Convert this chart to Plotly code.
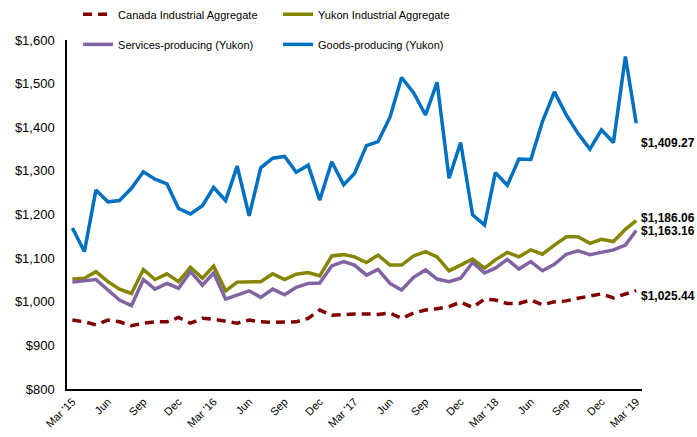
import plotly.graph_objects as go
import pandas as pd

months = pd.date_range("2015-03-01", periods=49, freq="MS").strftime("%Y-%m-%d").tolist()

canada = [958, 954, 947, 958, 954, 945, 951, 954, 954, 964, 951, 962, 960, 956, 951, 958, 954, 953, 953, 954,
          962, 981, 969, 971, 972, 972, 971, 974, 962, 974, 981, 984, 989, 999, 987, 1006, 1004, 996, 996, 1004,
          993, 1000, 1002, 1008, 1013, 1018, 1009, 1018, 1025.44]
yukon = [1052, 1054, 1069, 1046, 1029, 1019, 1074, 1051, 1064, 1046, 1079, 1054, 1082, 1025, 1045, 1045, 1046, 1064, 1051, 1063,
         1067, 1059, 1105, 1108, 1103, 1090, 1107, 1084, 1084, 1105, 1115, 1103, 1071, 1084, 1098, 1077, 1096, 1113, 1103, 1119,
         1109, 1130, 1149, 1149, 1134, 1143, 1138, 1166, 1186.06]
services = [1045, 1048, 1051, 1027, 1004, 991, 1051, 1029, 1042, 1031, 1069, 1038, 1066, 1006, 1016, 1025, 1010, 1029, 1016, 1033,
            1042, 1043, 1082, 1092, 1084, 1061, 1074, 1042, 1027, 1056, 1073, 1052, 1046, 1054, 1090, 1066, 1077, 1097, 1075, 1092,
            1071, 1086, 1109, 1117, 1108, 1113, 1119, 1130, 1163.16]
goods = [1169, 1115, 1256, 1229, 1232, 1260, 1298, 1281, 1270, 1214, 1201, 1220, 1262, 1232, 1311, 1197, 1307, 1329, 1333, 1297,
         1313, 1233, 1321, 1268, 1294, 1358, 1367, 1423, 1514, 1479, 1428, 1503, 1283, 1365, 1199, 1176, 1296, 1267, 1327, 1326,
         1413, 1481, 1428, 1386, 1350, 1394, 1365, 1562, 1409.27]

tick_vals = months[::3]
tick_text = ["Mar '15", "Jun", "Sep", "Dec", "Mar '16", "Jun", "Sep", "Dec", "Mar '17", "Jun", "Sep", "Dec",
             "Mar '18", "Jun", "Sep", "Dec", "Mar '19"]

series_names = ["Canada Industrial Aggregate", "Yukon Industrial Aggregate",
                "Services-producing (Yukon)", "Goods-producing (Yukon)"]

fig = go.Figure()
fig.add_trace(go.Scatter(x=months, y=canada, mode="lines", name=series_names[0],
                         line=dict(color="#800000", width=3.5, dash="9px,6px"), legend="legend"))
fig.add_trace(go.Scatter(x=months, y=yukon, mode="lines", name=series_names[1],
                         line=dict(color="#858500", width=3.5), legend="legend"))
fig.add_trace(go.Scatter(x=months, y=services, mode="lines", name=series_names[2],
                         line=dict(color="#8064A2", width=3.5), legend="legend2"))
fig.add_trace(go.Scatter(x=months, y=goods, mode="lines", name=series_names[3],
                         line=dict(color="#0070C0", width=3.5), legend="legend2"))

# end-value labels
label_offsets = [-12, 5, -1, -45]
for vals, off in zip([canada, yukon, services, goods], label_offsets):
    fig.add_annotation(x=1.0, xref="paper", y=vals[-1] + off, yref="y",
                       text="<b>$" + f"{vals[-1]:,.2f}" + "</b>", showarrow=False,
                       xanchor="left", yanchor="middle", xshift=-3,
                       font=dict(family="Liberation Sans, Arial", size=12, color="black"))

legend_common = dict(orientation="h", xref="container", yref="paper",
                     xanchor="left", yanchor="top", entrywidth=155,
                     font=dict(family="Liberation Sans, Arial", size=11, color="black"),
                     bgcolor="rgba(0,0,0,0)", tracegroupgap=0, itemwidth=30)

fig.update_layout(
    width=697, height=437,
    margin=dict(l=67, r=55, t=40, b=48, autoexpand=False),
    paper_bgcolor="white", plot_bgcolor="white",
    font=dict(family="Liberation Sans, Arial", color="black"),
    showlegend=True,
    legend=dict(x=0.112, y=1.115, **legend_common),
    legend2=dict(x=0.112, y=1.029, **legend_common),
    xaxis=dict(range=["2015-02-15", "2019-03-16"], tickvals=tick_vals, ticktext=tick_text,
               tickangle=-45, showgrid=False, zeroline=False, showline=True,
               linecolor="black", linewidth=2, ticks="",
               tickfont=dict(size=11, family="Liberation Sans, Arial")),
    yaxis=dict(range=[800, 1600], dtick=100, tickformat="$,.0f", showgrid=False,
               zeroline=False, showline=True, linecolor="black", linewidth=1.5, ticks="",
               ticklabelstandoff=8,
               tickfont=dict(size=13, family="Liberation Sans, Arial")),
)

fig.write_html("out.html", config={"displayModeBar": False},
               post_script="document.body.style.margin='0';")
